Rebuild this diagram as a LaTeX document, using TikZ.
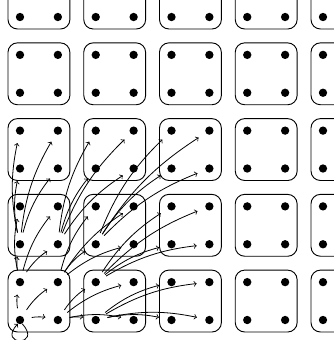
\documentclass[tikz,border=0pt]{standalone}
\begin{document}
\begin{tikzpicture}[
  block/.style={draw,rounded corners=0.25cm,minimum size=1.634cm,inner sep=0pt,line width=0.7pt},
  dot/.style={circle,fill,inner sep=0pt,minimum size=0.22cm},
  hop/.style={->,line width=0.6pt,shorten <=0.2cm,shorten >=0.22cm}
]

\clip (-0.528,-0.528) rectangle (8.29,8.449);

\foreach \k in {0,...,4}
\foreach \m in {0,...,4}
\node[block] (b-\k-\m) at (2*\k+0.5,2*\m+0.5) {};

\foreach \i in {0,...,8}
\foreach \j in {0,...,8}
\node[dot] (p-\i-\j) at (\i,\j) {};

\foreach \i in {0,...,5}
\foreach \j in {0,...,5}
{
\pgfmathtruncatemacro\pa{floor(\i/2)}
\pgfmathtruncatemacro\pb{floor(\j/2)}
\ifnum\numexpr\i+\j\relax>0
\draw[hop] (p-\pa-\pb) to[bend left=12] (p-\i-\j);
\fi
}

\draw[->,line width=0.6pt] (p-0-0.-60) .. controls +(0.55,-0.6) and +(-0.55,-0.6) .. (p-0-0.-120);

\end{tikzpicture}
\end{document}
